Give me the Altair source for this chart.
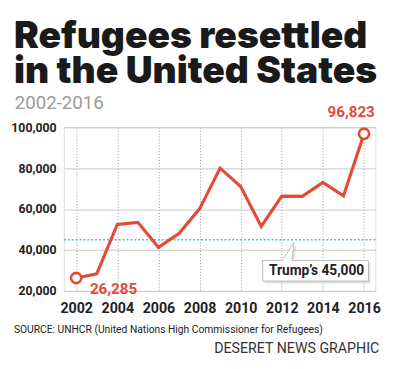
import altair as alt
import pandas as pd

years = [2002, 2003, 2004, 2005, 2006, 2007, 2008, 2009, 2010, 2011, 2012, 2013, 2014, 2015, 2016]
refugees = [26285, 28300, 52500, 53500, 41300, 48000, 60100, 80000, 71000, 51500, 66300, 66200, 73000, 66500, 96823]
trump_cap = 45000
y_ticks = [20000, 40000, 60000, 80000, 100000]
x_ticks = [2002, 2004, 2006, 2008, 2010, 2012, 2014, 2016]

title_lines = ["Refugees resettled", "in the United States"]
subtitle = "2002-2016"
source = "SOURCE: UNHCR (United Nations High Commissioner for Refugees)"
credit = "DESERET NEWS GRAPHIC"
callout = "Trump\u2019s 45,000"

RED = "#e14b38"
COND = "Roboto"
HEAVY = "Inter"

W, H = 318, 167
X_DOM = [2001.4, 2016.55]
Y_DOM = [20000, 100000]
PX_X = W / (X_DOM[1] - X_DOM[0])
PX_Y = H / (Y_DOM[1] - Y_DOM[0])

df = pd.DataFrame({"year": years, "refugees": refugees})
ends = df.iloc[[0, -1]].reset_index(drop=True)

xs = alt.Scale(domain=X_DOM, nice=False, zero=False)
ys = alt.Scale(domain=Y_DOM, nice=False, zero=False)

X = alt.X("year:Q", scale=xs, axis=alt.Axis(
    values=x_ticks, format="d", title=None, domain=False, ticks=False,
    labelFont=COND, labelFontSize=14.5, labelFontWeight="bold", labelColor="#222",
    labelPadding=11, gridDash=[1, 2], gridColor="#999", labelFlush=False))
Y = alt.Y("refugees:Q", scale=ys, axis=alt.Axis(
    values=y_ticks, format=",d", title=None, domain=False, ticks=False,
    labelFont=COND, labelFontSize=12.5, labelFontWeight="bold", labelColor="#222",
    labelPadding=8, gridColor="#c8c8c8", gridWidth=1))

base = alt.Chart(df)

line = base.mark_line(color=RED, strokeWidth=3.2, strokeJoin="miter").encode(x=X, y=Y)

cap_line = alt.Chart(pd.DataFrame({"refugees": [trump_cap]})).mark_rule(
    color="#5bb8cc", strokeDash=[2, 2], strokeWidth=1.6
).encode(y=Y)

pts = alt.Chart(ends).mark_point(
    shape="circle", size=110, filled=True, fill="white", stroke=RED, strokeWidth=2.6, opacity=1
).encode(x=X, y=Y)


def end_label(row, ox, oy, align):
    return alt.Chart(ends.iloc[[row]]).transform_calculate(
        lx=f"datum.year + {ox} / {PX_X}",
        ly=f"datum.refugees - {oy} / {PX_Y}",
    ).mark_text(
        align=align, baseline="alphabetic", font=COND, fontSize=15.5,
        fontWeight="bold", color=RED
    ).encode(
        x=alt.X("lx:Q", scale=xs),
        y=alt.Y("ly:Q", scale=ys),
        text=alt.Text("refugees:Q", format=","),
    )

lab_first = end_label(0, 14, 16, "left")
lab_last = end_label(1, 11, -17, "right")

bubble_path = "M -54 -10.5 L -34 -10.5 L -22 -29 L -24 -10.5 L 54 -10.5 L 54 10.5 L -54 10.5 Z"
one = pd.DataFrame({"t": [callout]})
shadow = alt.Chart(one).mark_point(
    shape=bubble_path, size=4, filled=True, fill="#000", opacity=0.12, strokeWidth=0
).encode(x=alt.value(259), y=alt.value(149))
bubble = alt.Chart(one).mark_point(
    shape=bubble_path, size=4, filled=True, fill="white", stroke="#bbb", strokeWidth=1, opacity=1
).encode(x=alt.value(257), y=alt.value(146.5))
bubble_text = alt.Chart(one).mark_text(
    align="center", baseline="middle", font=COND, fontSize=14, fontWeight="bold", color="#222"
).encode(x=alt.value(258), y=alt.value(147), text="t:N")

def txt(s, x, y, size, weight, color, font, align="left", baseline="alphabetic"):
    return alt.Chart(pd.DataFrame({"t": [s]})).mark_text(
        align=align, baseline=baseline, font=font, fontSize=size, fontWeight=weight, color=color
    ).encode(x=alt.value(x), y=alt.value(y), text="t:N")

t1 = txt(title_lines[0], -51, -81, 38, 900, "#1a1a1a", HEAVY)
t2 = txt(title_lines[1], -51, -45, 38, 900, "#1a1a1a", HEAVY)
t3 = txt(subtitle, -50, -19, 19, "normal", "#9a9a9a", "Roboto")
t4 = txt(source, -51, 207, 10.5, "normal", "#222", COND, baseline="middle")
t5 = txt(credit, 322, 226, 14.5, "normal", "#333", "Roboto", align="right", baseline="middle")

chart = alt.layer(
    cap_line, line, pts, lab_first, lab_last, shadow, bubble, bubble_text,
    t1, t2, t3, t4, t5
).properties(
    width=W, height=H,
    autosize=alt.AutoSizeParams(type="none"),
    padding={"left": 57, "top": 118, "right": 17, "bottom": 75}
).configure_view(stroke=None).configure(background="white")

chart.save("out.html", embed_options={"renderer": "svg", "actions": False})
